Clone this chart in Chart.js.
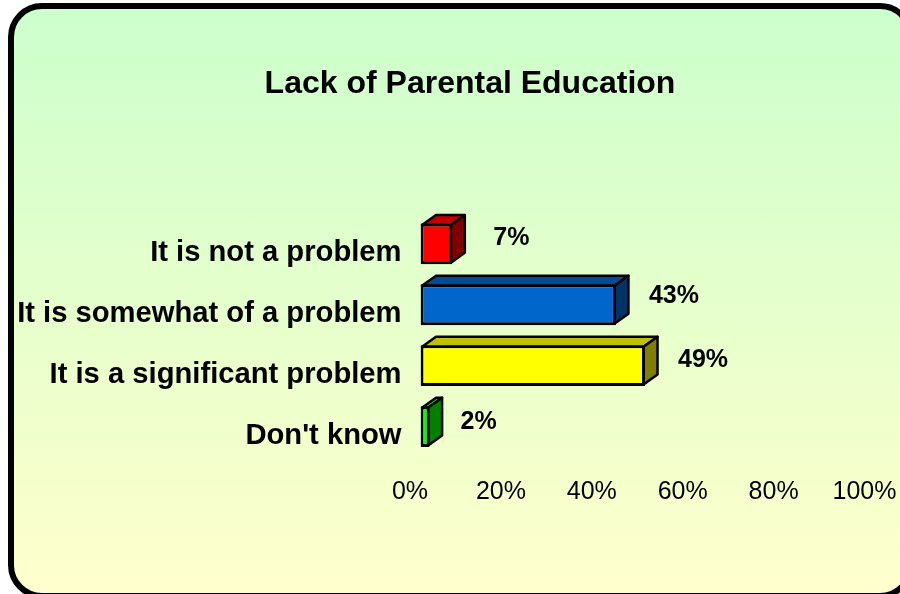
<!DOCTYPE html>
<html>
<head>
<meta charset="utf-8">
<title>Lack of Parental Education</title>
<script src="https://cdn.jsdelivr.net/npm/chart.js@4"></script>
<style>
  html, body { margin: 0; padding: 0; background: #fff; }
  #page { position: relative; width: 900px; height: 594px; overflow: hidden; }
  #frame {
    position: absolute; left: 8px; top: 3px; width: 894px; height: 584px;
    border: 6px solid #000; border-radius: 34px;
    background: linear-gradient(#ccffcc, #ffffcc);
  }
  #wrap { position: absolute; left: 0; top: 0; width: 900px; height: 594px; }
</style>
</head>
<body>
<div id="page">
  <div id="frame"></div>
  <div id="wrap"><canvas id="chart"></canvas></div>
</div>
<script>
const categories = ['It is not a problem', 'It is somewhat of a problem', 'It is a significant problem', "Don't know"];
// bar lengths, printed rounded
const percents = [7, 43, 49.4, 2];
const tickValues = [0, 20, 40, 60, 80, 100];

const frontColors = ['#ff0000', '#0066cc', '#ffff00', '#00ff00'];
const topColors = ['#c00000', '#004c99', '#c0c000', '#00e000'];
const sideColors = ['#800000', '#003366', '#808000', '#008000'];

// value labels sit by hand in the original, so each has its own nudge
const labelNudgeX = [41, 33, 33, 31];
const labelNudgeY = [-6, -9, -6, -4];

const fontName = '"Liberation Sans", Arial, sans-serif';
const depthX = 14;
const depthY = 10;

function face(ctx, pts, color) {
  ctx.beginPath();
  ctx.moveTo(pts[0][0], pts[0][1]);
  for (let i = 1; i < pts.length; i++) ctx.lineTo(pts[i][0], pts[i][1]);
  ctx.closePath();
  ctx.fillStyle = color;
  ctx.fill();
  ctx.stroke();
}

// top and side of the fake 3D boxes, taken from the bar elements
const boxSides = {
  id: 'boxSides',
  beforeDatasetsDraw(chart) {
    const ctx = chart.ctx;
    ctx.save();
    ctx.lineWidth = 2.5;
    ctx.lineJoin = 'round';
    ctx.strokeStyle = '#000';
    chart.getDatasetMeta(0).data.forEach(function(bar, i) {
      const x0 = bar.base + 1.5;
      const x1 = bar.x - 1.5;
      const y0 = bar.y - bar.height / 2 + 1.5;
      const y1 = bar.y + bar.height / 2 - 1.5;
      face(ctx, [[x0, y0], [x0 + depthX, y0 - depthY], [x1 + depthX, y0 - depthY], [x1, y0]], topColors[i]);
      face(ctx, [[x1, y0], [x1 + depthX, y0 - depthY], [x1 + depthX, y1 - depthY], [x1, y1]], sideColors[i]);
    });
    ctx.restore();
  }
};

const valueLabels = {
  id: 'valueLabels',
  afterDatasetsDraw(chart) {
    const ctx = chart.ctx;
    ctx.save();
    ctx.fillStyle = '#000';
    ctx.font = 'bold 25px ' + fontName;
    ctx.textAlign = 'left';
    ctx.textBaseline = 'middle';
    chart.getDatasetMeta(0).data.forEach(function(bar, i) {
      ctx.fillText(Math.round(percents[i]) + '%', bar.x + labelNudgeX[i], bar.y + labelNudgeY[i]);
    });
    ctx.restore();
  }
};

// the original title is centred a bit right of the middle
const shiftTitle = {
  id: 'shiftTitle',
  afterLayout(chart) {
    chart.titleBlock.left = 40;
    chart.titleBlock.right = 900;
  }
};

let myChart = new Chart(document.getElementById('chart').getContext('2d'), {
  type: 'bar',
  data: {
    labels: categories,
    datasets: [{
      data: percents,
      backgroundColor: frontColors,
      borderColor: '#000',
      borderWidth: 3,
      borderSkipped: false,
      categoryPercentage: 1,
      barPercentage: 0.67
    }]
  },
  plugins: [boxSides, valueLabels, shiftTitle],
  options: {
    indexAxis: 'y',
    responsive: true,
    maintainAspectRatio: false,
    animation: false,
    layout: { padding: { left: 0, right: 25, top: 0, bottom: 67 } },
    plugins: {
      legend: { display: false },
      tooltip: { enabled: false },
      title: {
        display: true,
        text: 'Lack of Parental Education',
        color: '#000',
        font: { family: fontName, size: 32, weight: 'bold' },
        padding: { top: 65, bottom: 110 }
      }
    },
    scales: {
      x: {
        min: 0,
        max: 100,
        grid: { display: false, drawTicks: false },
        border: { display: false },
        afterBuildTicks(scale) {
          scale.ticks = tickValues.map(function(v) { return { value: v }; });
        },
        afterFit(scale) {
          scale.paddingLeft = 0;
          scale.paddingRight = 0;
        },
        ticks: {
          color: '#000',
          font: { family: fontName, size: 25 },
          padding: 20,
          labelOffset: -10.5,
          maxRotation: 0,
          callback(v) { return v + '%'; }
        }
      },
      y: {
        grid: { display: false, drawTicks: false },
        border: { display: false },
        afterFit(scale) { scale.width = 420.5; },
        ticks: {
          color: '#000',
          font: { family: fontName, size: 29.2, weight: 'bold' },
          padding: 19,
          labelOffset: 9
        }
      }
    }
  }
});
</script>
</body>
</html>
